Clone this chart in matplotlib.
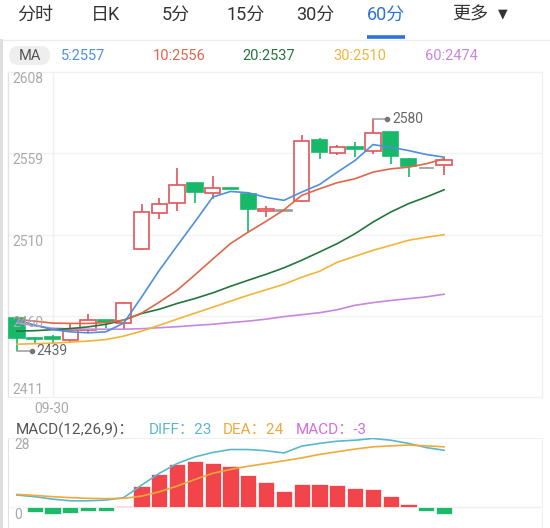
import matplotlib
matplotlib.use("Agg")
import matplotlib.pyplot as plt
from matplotlib.patches import FancyBboxPatch, Rectangle
from matplotlib.lines import Line2D
import numpy as np

plt.rcParams['font.family'] = ['Roboto', 'Noto Sans CJK SC', 'DejaVu Sans']

# ---------------- data ----------------
tabs = ["分时", "日K", "5分", "15分", "30分", "60分", "更多"]
active_tab = "60分"
date_label = "09-30"
ytick_labels = ["2608", "2559", "2510", "2460", "2411"]

opens  = [2459.0, 2447.0, 2448.0, 2445.8, 2451.9, 2457.8, 2456.0, 2500.9, 2523.1, 2529.2,
          2541.0, 2535.2, 2538.0, 2534.2, 2524.1, 2524.4, 2530.1, 2567.3, 2559.4, 2562.8,
          2560.8, 2571.9, 2555.8, 2550.3, 2552.2]
highs  = [2460.6, 2448.0, 2449.0, 2456.5, 2462.0, 2458.0, 2468.8, 2528.6, 2532.0, 2550.3,
          2541.2, 2545.3, 2538.0, 2534.5, 2527.1, 2524.4, 2570.3, 2568.3, 2564.3, 2565.8,
          2580.0, 2572.0, 2556.4, 2550.3, 2556.2]
lows   = [2439.0, 2444.0, 2444.0, 2444.2, 2450.9, 2453.0, 2452.3, 2500.3, 2519.1, 2524.1,
          2529.2, 2531.6, 2537.3, 2511.0, 2520.5, 2524.4, 2529.8, 2555.8, 2558.2, 2556.8,
          2558.4, 2552.8, 2544.7, 2550.3, 2545.7]
closes = [2446.9, 2446.4, 2446.6, 2452.2, 2458.0, 2457.0, 2468.1, 2523.5, 2528.1, 2540.2,
          2535.6, 2538.2, 2537.5, 2525.1, 2525.3, 2524.4, 2566.4, 2559.8, 2563.2, 2561.8,
          2571.3, 2557.4, 2551.7, 2550.3, 2555.2]

ma5  = [2458.0, 2455.0, 2452.3, 2450.9, 2450.3, 2450.9, 2456.2, 2471.9, 2488.2, 2503.0,
        2517.6, 2532.6, 2536.0, 2535.2, 2532.4, 2530.6, 2535.6, 2540.2, 2547.7, 2554.8,
        2564.4, 2562.8, 2560.8, 2558.4, 2556.8]
ma10 = [2458.4, 2457.4, 2456.2, 2456.0, 2456.0, 2456.5, 2458.0, 2462.2, 2468.9, 2476.1,
        2485.4, 2495.0, 2504.4, 2511.4, 2517.9, 2524.8, 2533.6, 2537.6, 2541.3, 2543.7,
        2547.7, 2549.7, 2550.7, 2552.8, 2555.8]
ma20 = [2451.3, 2451.6, 2452.2, 2452.9, 2453.9, 2455.5, 2458.0, 2462.0, 2464.6, 2468.1,
        2471.1, 2474.5, 2478.5, 2482.2, 2485.8, 2489.7, 2494.3, 2499.3, 2504.4, 2510.4,
        2517.4, 2523.5, 2528.6, 2532.6, 2537.0]
ma30 = [2443.4, 2443.7, 2444.0, 2444.7, 2445.3, 2446.2, 2448.3, 2451.3, 2454.9, 2458.6,
        2462.2, 2465.8, 2469.5, 2473.1, 2476.4, 2479.7, 2484.0, 2487.6, 2493.1, 2496.7,
        2500.3, 2503.3, 2506.4, 2508.2, 2509.8]
ma60 = [2456.3, 2454.6, 2453.1, 2452.7, 2452.5, 2452.5, 2452.5, 2452.8, 2453.4, 2454.0,
        2454.8, 2455.5, 2456.5, 2457.4, 2458.6, 2460.1, 2461.3, 2462.5, 2464.3, 2467.0,
        2468.6, 2469.9, 2471.0, 2472.1, 2473.7]
ma_labels = ["5:2557", "10:2556", "20:2537", "30:2510", "60:2474"]

diff = [4.75, 4.1, 3.1, 2.4, 2.4, 2.7, 3.7, 8.8, 13.6, 17.6,
        20.3, 22.1, 23.3, 23.3, 22.8, 21.9, 24.7, 25.8, 26.7, 27.1,
        27.8, 27.1, 25.8, 24.1, 23.0]
dea  = [5.0, 4.6, 4.1, 3.7, 3.4, 3.3, 3.4, 4.3, 6.1, 8.4,
        11.1, 13.6, 15.2, 16.5, 17.6, 18.7, 19.9, 21.3, 22.4, 23.5,
        24.4, 24.8, 25.1, 24.8, 24.4]
macd = [-0.3, -2.0, -3.1, -2.7, -1.8, -1.6, 0.3, 8.4, 13.5, 17.6,
        18.6, 18.0, 16.7, 13.1, 9.9, 6.5, 9.2, 9.2, 8.8, 7.6,
        7.2, 4.2, 1.1, -1.6, -3.0]
macd_labels = ["MACD(12,26,9)：", "DIFF：23", "DEA：24", "MACD：-3"]

# ---------------- styling ----------------
W, H = 550, 528
RED = "#e0555a"
GREEN = "#17b86a"
GRAY = "#9a9a9a"
C_MA = ["#4f8fdc", "#e0664a", "#23773c", "#f0b53a", "#c986df"]
C_DIFF = "#5ab8cb"
C_DEA = "#f0a93c"
C_MACD = "#d46fdc"
BAR_RED = "#f2454b"
BAR_GREEN = "#1dba6b"

fig = plt.figure(figsize=(W / 100, H / 100), dpi=100)
fig.patch.set_facecolor("white")


def fx(x):
    return x / W


def fy(y):
    return 1 - y / H


def axes_px(x0, y0, x1, y1):
    return fig.add_axes([fx(x0), fy(y1), (x1 - x0) / W, (y1 - y0) / H])


# ---------------- header ----------------
tab_x = [35, 106, 176, 246, 315, 386, 470]
for t, x in zip(tabs, tab_x):
    col = "#2f72d8" if t == active_tab else "#333333"
    fig.text(fx(x), fy(15), t, ha="center", va="center", fontsize=13, color=col)
fig.text(fx(503), fy(14), "▼", ha="center", va="center", fontsize=9, color="#333333",
         family=["DejaVu Sans"])
fig.add_artist(Line2D([fx(0), fx(W)], [fy(39.5), fy(39.5)], color="#ececec", lw=1))
fig.add_artist(Line2D([fx(367), fx(405)], [fy(37), fy(37)], color="#2f72d8", lw=2.6,
                      solid_capstyle="butt"))
# left border of screenshot
fig.add_artist(Line2D([fx(1), fx(1)], [fy(40), fy(H)], color="#dcdcdc", lw=2))

# MA row
pill = FancyBboxPatch((fx(9), fy(65)), fx(41), 19 / H,
                      boxstyle="round,pad=0,rounding_size=0.018",
                      transform=fig.transFigure, facecolor="#eeeeee", edgecolor="none")
fig.add_artist(pill)
fig.text(fx(29.5), fy(56), "MA", ha="center", va="center", fontsize=10.5, color="#555555")
ma_x = [61, 152.5, 242.5, 333, 425]
for lab, x, c in zip(ma_labels, ma_x, C_MA):
    fig.text(fx(x), fy(56), lab, ha="left", va="center", fontsize=10.5, color=c)

# ---------------- price panel ----------------
N_SLOTS = 30
ax = axes_px(8, 72, 542, 397)
ymin, ymax = 2411.4, 2608.4
ax.set_xlim(-0.5, N_SLOTS - 0.5)
ax.set_ylim(ymin, ymax)
ax.set_xticks([])
ax.set_yticks([])
for s in ax.spines.values():
    s.set_color("#f0f0f0")
    s.set_linewidth(1)
ax.spines["left"].set_color("#e2e2e2")
grid_vals = np.linspace(ymax, ymin, 5)
for v in grid_vals[1:-1]:
    ax.axhline(v, color="#f2f2f2", lw=1, zorder=0)
date_idx = 2
ax.axvline(date_idx, color="#f0f0f0", lw=1, zorder=0)

# tick labels inside
for i, (v, lab) in enumerate(zip(grid_vals, ytick_labels)):
    if i == len(grid_vals) - 1:
        ax.text(0.008, v, lab, transform=ax.get_yaxis_transform(), ha="left", va="bottom",
                fontsize=10, color="#aaaaaa", zorder=6)
    else:
        ax.text(0.008, v, lab + "\n", transform=ax.get_yaxis_transform(), ha="left",
                va="top", fontsize=10, color="#aaaaaa", zorder=6, linespacing=0.95)

xs = np.arange(len(opens))
# MA lines
for arr, c in zip([ma60, ma30, ma20, ma10, ma5], C_MA[::-1]):
    ax.plot(xs, arr, color=c, lw=1.2, zorder=4, solid_joinstyle="round")

# candles
bw = 0.86
for i in range(len(opens)):
    o, h, l, c = opens[i], highs[i], lows[i], closes[i]
    if c > o:
        col, face = RED, "white"
    elif c < o:
        col, face = GREEN, GREEN
    else:
        col, face = GRAY, GRAY
    ax.vlines(i, l, h, color=col, lw=1.2, zorder=2)
    lo, hi = min(o, c), max(o, c)
    ax.add_patch(Rectangle((i - bw / 2, lo), bw, max(hi - lo, 0.05), facecolor=face,
                           edgecolor=col, lw=1.2, zorder=3))

# max / min annotation
imax = int(np.argmax(highs))
imin = int(np.argmin(lows))
ax.plot([imax, imax + 0.8], [highs[imax], highs[imax]], color=GRAY, lw=1.1, zorder=5)
ax.plot([imax + 0.8], [highs[imax]], "o", color="#777777", ms=3, zorder=5)
ax.text(imax + 1.1, highs[imax], f"{highs[imax]:.0f}", ha="left", va="center",
        fontsize=10, color="#666666", zorder=6)
ax.plot([imin, imin + 0.85], [lows[imin], lows[imin]], color=GRAY, lw=1.1, zorder=5)
ax.plot([imin + 0.85], [lows[imin]], "o", color="#777777", ms=3, zorder=5)
ax.text(imin + 1.1, lows[imin], f"{lows[imin]:.0f}", ha="left", va="center",
        fontsize=10, color="#666666", zorder=6)

# date label
fig.text(fx(52), fy(409), date_label, ha="center", va="center", fontsize=10,
         color="#aaaaaa")

# ---------------- MACD panel ----------------
mx0 = [16, 149, 223, 296]
mcols = ["#555555", C_DIFF, C_DEA, C_MACD]
for lab, x, c in zip(macd_labels, mx0, mcols):
    fig.text(fx(x), fy(430), lab, ha="left", va="center", fontsize=11, color=c)

ax2 = axes_px(8, 438, 542, 527)
ax2.set_xlim(-0.5, N_SLOTS - 0.5)
ax2.set_ylim(-8.27, 28)
ax2.set_xticks([])
ax2.set_yticks([])
for s in ax2.spines.values():
    s.set_color("#f0f0f0")
ax2.spines["bottom"].set_visible(False)
ax2.spines["left"].set_color("#e2e2e2")
ax2.axhline(0, color="#eeeeee", lw=1, zorder=0)
bar_cols = [BAR_RED if v > 0 else BAR_GREEN for v in macd]
ax2.bar(xs, macd, width=0.92, color=bar_cols, edgecolor="white", linewidth=0.5, zorder=2)
ax2.plot(xs, diff, color=C_DIFF, lw=1.2, zorder=3)
ax2.plot(xs, dea, color=C_DEA, lw=1.2, zorder=3)
ax2.text(0.012, 28, "28", transform=ax2.get_yaxis_transform(), ha="left", va="top",
         fontsize=10, color="#aaaaaa")
ax2.text(0.012, 0, "\n0", transform=ax2.get_yaxis_transform(), ha="left", va="center",
         fontsize=10, color="#aaaaaa", linespacing=1.2)

fig.savefig("out.png", dpi=100)
